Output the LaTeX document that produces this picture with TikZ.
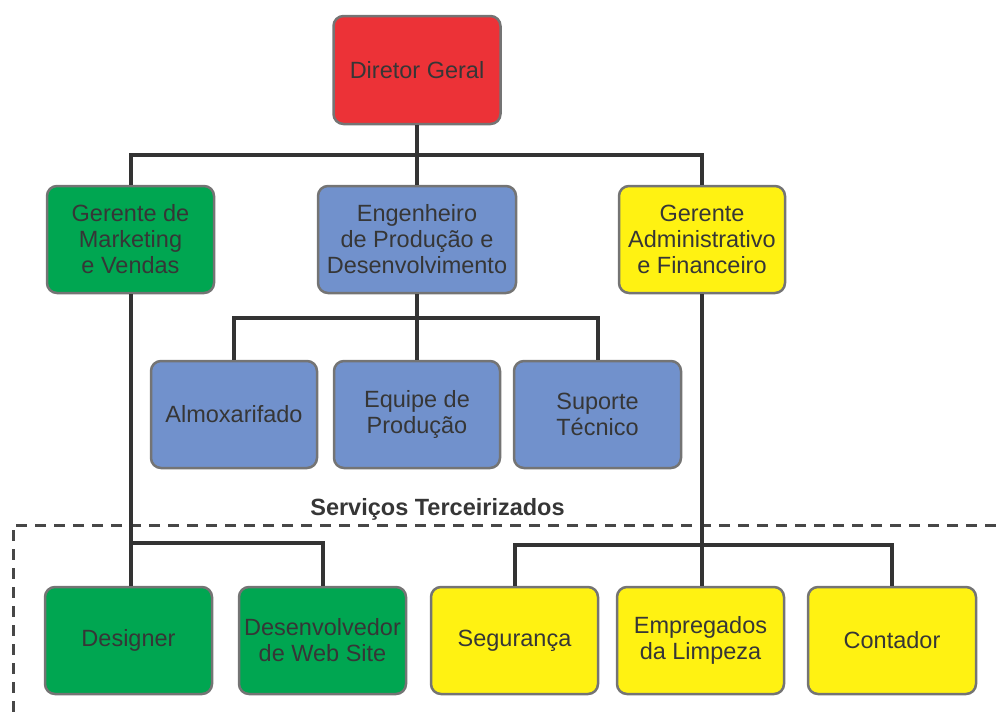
\documentclass[tikz,border=0pt]{standalone}
\usepackage{fontspec}
\setmainfont{Liberation Sans}
\definecolor{cred}{HTML}{EC3237}
\definecolor{cgreen}{HTML}{00A651}
\definecolor{cblue}{HTML}{7191CC}
\definecolor{cyellow}{HTML}{FFF212}
\definecolor{cborder}{HTML}{747474}
\definecolor{ctext}{HTML}{363636}
\definecolor{cline}{HTML}{333333}
\tikzset{
  box/.style={draw=cborder, line width=2.5pt, rounded corners=10pt, align=center,
    minimum width=167pt, minimum height=107pt, inner sep=0pt, text=ctext,
    font=\fontsize{23.5}{26}\selectfont},
  conn/.style={draw=cline, line width=4pt},
  dashline/.style={draw=cline!90, line width=3pt, dash pattern=on 11pt off 8pt}
}
\begin{document}
\begin{tikzpicture}[x=1pt,y=-1pt]
\useasboundingbox (0,0) rectangle (996,713);
\coordinate (tbar) at (417,155);
\coordinate (ebar) at (417,318);
\coordinate (mbar) at (130.5,543);
\coordinate (abar) at (702.5,545);
\node[box, fill=cred, minimum height=108pt] (dir) at (417,70) {Diretor Geral};
\node[box, fill=cgreen] (mkt) at (130.5,239.5) {Gerente de\\Marketing\\e Vendas};
\node[box, fill=cblue, minimum width=198pt] (eng) at (417,239.5) {Engenheiro\\de Produção e\\Desenvolvimento};
\node[box, fill=cyellow, minimum width=166pt] (adm) at (702,239.5) {Gerente\\Administrativo\\e Financeiro};
\node[box, fill=cblue, minimum width=166pt] (alm) at (234,414.5) {Almoxarifado};
\node[box, fill=cblue, minimum width=166pt] (equ) at (417,414.5) {Equipe de\\Produção};
\node[box, fill=cblue] (sup) at (597.5,414.5) {Suporte\\Técnico};
\node[box, fill=cgreen] (des) at (128.5,640.5) {Designer};
\node[box, fill=cgreen] (web) at (322.5,640.5) {Desenvolvedor\\de Web Site};
\node[box, fill=cyellow] (seg) at (514.5,640.5) {Segurança};
\node[box, fill=cyellow] (emp) at (700.5,640.5) {Empregados\\da Limpeza};
\node[box, fill=cyellow, minimum width=168pt] (con) at (892,640.5) {Contador};
\draw[dashline] (996,525) -- (13,525) -- (13,713);
\node[font=\bfseries\fontsize{23.5}{27}\selectfont, text=ctext, inner sep=0pt] (lbl) at (437.5,509) {Serviços Terceirizados};
\draw[conn] (dir.south) -- (tbar);
\draw[conn] (mkt.north) |- (tbar) -| (adm.north);
\draw[conn] (tbar) -- (eng.north);
\draw[conn] (eng.south) -- (ebar);
\draw[conn] (alm.north) |- (ebar) -| (sup.north);
\draw[conn] (ebar) -- (equ.north);
\draw[conn] (mkt.south) -- (mkt.south |- des.north);
\draw[conn] (mbar) -| (web.north);
\draw[conn] (adm.south) -- (adm.south |- emp.north);
\draw[conn] (seg.north) |- (abar) -| (con.north);
\end{tikzpicture}
\end{document}
